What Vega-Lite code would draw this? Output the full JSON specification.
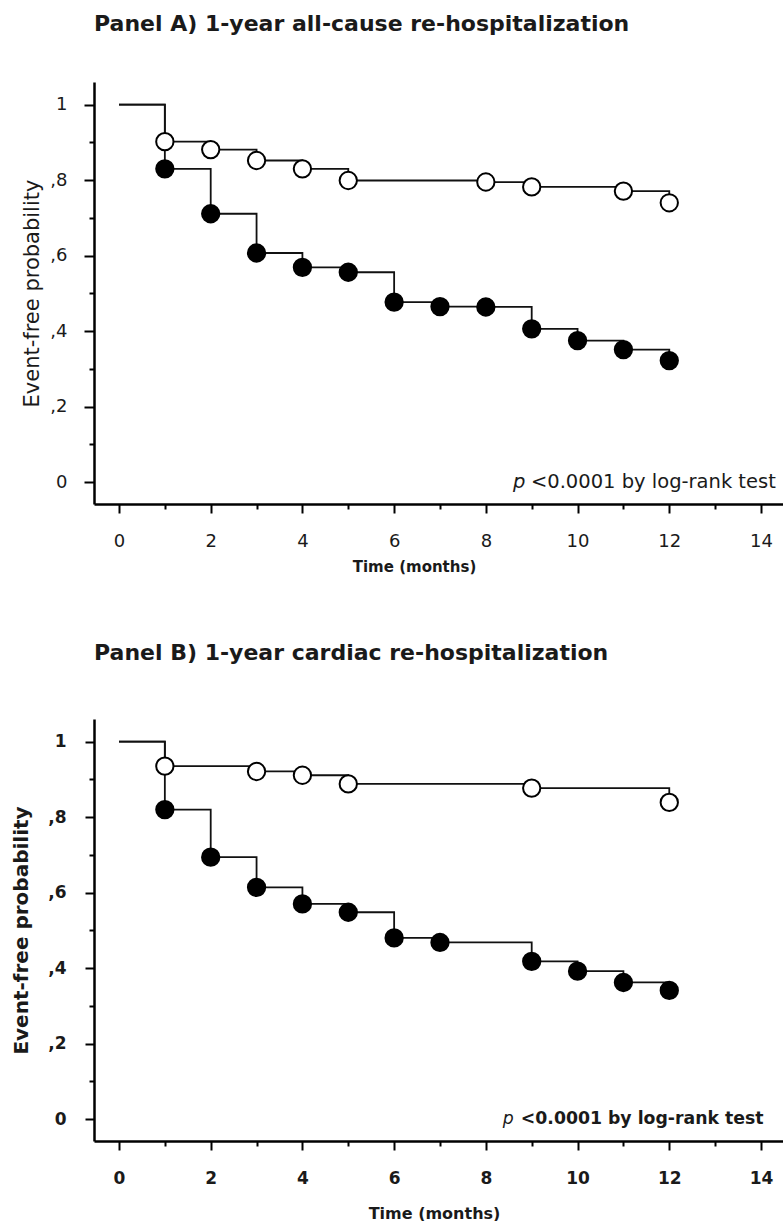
{
  "$schema": "https://vega.github.io/schema/vega-lite/v6.json",
  "background": "white",
  "padding": {"left": 11, "top": 13, "right": 0, "bottom": 0},
  "config": {"view": {"stroke": null}, "font": "DejaVu Sans"},
  "datasets": {
    "A": [
      {"group": "open", "time": 0, "surv": 1, "circle": 0},
      {"group": "open", "time": 1, "surv": 0.902, "circle": 1},
      {"group": "open", "time": 2, "surv": 0.881, "circle": 1},
      {"group": "open", "time": 3, "surv": 0.852, "circle": 1},
      {"group": "open", "time": 4, "surv": 0.83, "circle": 1},
      {"group": "open", "time": 5, "surv": 0.799, "circle": 1},
      {"group": "open", "time": 8, "surv": 0.795, "circle": 1},
      {"group": "open", "time": 9, "surv": 0.782, "circle": 1},
      {"group": "open", "time": 11, "surv": 0.771, "circle": 1},
      {"group": "open", "time": 12, "surv": 0.74, "circle": 1},
      {"group": "filled", "time": 0, "surv": 1, "circle": 0},
      {"group": "filled", "time": 1, "surv": 0.83, "circle": 1},
      {"group": "filled", "time": 2, "surv": 0.711, "circle": 1},
      {"group": "filled", "time": 3, "surv": 0.607, "circle": 1},
      {"group": "filled", "time": 4, "surv": 0.569, "circle": 1},
      {"group": "filled", "time": 5, "surv": 0.556, "circle": 1},
      {"group": "filled", "time": 6, "surv": 0.477, "circle": 1},
      {"group": "filled", "time": 7, "surv": 0.465, "circle": 1},
      {"group": "filled", "time": 8, "surv": 0.464, "circle": 1},
      {"group": "filled", "time": 9, "surv": 0.406, "circle": 1},
      {"group": "filled", "time": 10, "surv": 0.375, "circle": 1},
      {"group": "filled", "time": 11, "surv": 0.351, "circle": 1},
      {"group": "filled", "time": 12, "surv": 0.322, "circle": 1}
    ],
    "B": [
      {"group": "open", "time": 0, "surv": 1, "circle": 0},
      {"group": "open", "time": 1, "surv": 0.935, "circle": 1},
      {"group": "open", "time": 3, "surv": 0.921, "circle": 1},
      {"group": "open", "time": 4, "surv": 0.911, "circle": 1},
      {"group": "open", "time": 5, "surv": 0.888, "circle": 1},
      {"group": "open", "time": 9, "surv": 0.877, "circle": 1},
      {"group": "open", "time": 12, "surv": 0.839, "circle": 1},
      {"group": "filled", "time": 0, "surv": 1, "circle": 0},
      {"group": "filled", "time": 1, "surv": 0.82, "circle": 1},
      {"group": "filled", "time": 2, "surv": 0.694, "circle": 1},
      {"group": "filled", "time": 3, "surv": 0.614, "circle": 1},
      {"group": "filled", "time": 4, "surv": 0.57, "circle": 1},
      {"group": "filled", "time": 5, "surv": 0.548, "circle": 1},
      {"group": "filled", "time": 6, "surv": 0.48, "circle": 1},
      {"group": "filled", "time": 7, "surv": 0.468, "circle": 1},
      {"group": "filled", "time": 9, "surv": 0.418, "circle": 1},
      {"group": "filled", "time": 10, "surv": 0.392, "circle": 1},
      {"group": "filled", "time": 11, "surv": 0.362, "circle": 1},
      {"group": "filled", "time": 12, "surv": 0.341, "circle": 1}
    ],
    "notes": [
      {"italic": "p", "rest": "<0.0001 by log-rank test"}
    ]
  },
  "spacing": 68,
  "vconcat": [
    {
      "width": 689,
      "height": 422,
      "title": {"text": "Panel A) 1-year all-cause re-hospitalization", "anchor": "start", "frame": "group", "fontSize": 22, "fontWeight": "bold", "font": "DejaVu Sans", "color": "#1a1a1a", "offset": 46},
      "layer": [
        {
          "data": {"name": "A"},
          "encoding": {
            "x": {"field": "time", "type": "quantitative",
              "scale": {"domain": [-0.545, 14.48], "nice": false, "zero": false},
              "axis": {"values": [0,0.5,1,1.5,2,2.5,3,3.5,4,4.5,5,5.5,6,6.5,7,7.5,8,8.5,9,9.5,10,10.5,11,11.5,12,12.5,13,13.5,14],
                "labelExpr": "datum.value % 2 == 0 ? format(datum.value, 'd') : ''",
                "title": "Time (months)", "titleFontSize": 15, "titleFontWeight": "bold", "titleColor": "#1a1a1a", "titlePadding": 9, "titleX": 320,
                "labelFontSize": 18, "labelColor": "#1a1a1a", "labelPadding": 19, "labelOverlap": false, "labelFlush": false,
                "tickSize": {"condition": {"test": "datum.value % 2 == 0", "value": 9}, "value": 5},
                "tickWidth": 2, "tickColor": "black", "domainColor": "black", "domainWidth": 2.5, "grid": false}},
            "y": {"field": "surv", "type": "quantitative",
              "scale": {"domain": [-0.058, 1.06], "nice": false, "zero": false},
              "axis": {"values": [0,0.1,0.2,0.3,0.4,0.5,0.6,0.7,0.8,0.9,1],
                "labelExpr": "round(datum.value*10) % 2 == 0 ? (datum.value == 0 ? '0' : datum.value == 1 ? '1' : ',' + round(datum.value*10)) : ''",
                "title": "Event-free probability", "titleFontSize": 21, "titleFontWeight": "normal", "titleColor": "#1a1a1a", "titlePadding": 7,
                "labelFontSize": 18, "labelColor": "#1a1a1a", "labelPadding": 17, "labelOverlap": false, "labelFlush": false,
                "tickSize": {"condition": {"test": "round(datum.value*10) % 2 == 0", "value": 10}, "value": 5},
                "tickWidth": 2, "tickColor": "black", "domainColor": "black", "domainWidth": 2.5, "grid": false}}
          },
          "layer": [
            {"mark": {"type": "line", "interpolate": "step-after", "color": "#111", "strokeWidth": 1.8}, "encoding": {"detail": {"field": "group"}}},
            {"transform": [{"filter": "datum.circle == 1"}],
              "mark": {"type": "point", "shape": "circle", "filled": true, "size": 300, "stroke": "black", "strokeWidth": 2, "opacity": 1},
              "encoding": {"fill": {"field": "group", "type": "nominal", "scale": {"domain": ["open", "filled"], "range": ["white", "black"]}, "legend": null}}}
          ]
        },
        {"data": {"name": "notes"},
          "mark": {"type": "text", "fontStyle": "italic", "fontSize": 19.5, "align": "left", "baseline": "middle", "color": "#1a1a1a"},
          "encoding": {"x": {"datum": 8.59}, "y": {"datum": 0}, "text": {"field": "italic"}}},
        {"data": {"name": "notes"},
          "mark": {"type": "text", "fontSize": 19.5, "align": "left", "baseline": "middle", "dx": 18, "color": "#1a1a1a"},
          "encoding": {"x": {"datum": 8.59}, "y": {"datum": 0}, "text": {"field": "rest"}}}
      ]
    },
    {
      "width": 689,
      "height": 422,
      "title": {"text": "Panel B) 1-year cardiac re-hospitalization", "anchor": "start", "frame": "group", "fontSize": 22, "fontWeight": "bold", "font": "DejaVu Sans", "color": "#1a1a1a", "offset": 54},
      "layer": [
        {
          "data": {"name": "B"},
          "encoding": {
            "x": {"field": "time", "type": "quantitative",
              "scale": {"domain": [-0.545, 14.48], "nice": false, "zero": false},
              "axis": {"values": [0,0.5,1,1.5,2,2.5,3,3.5,4,4.5,5,5.5,6,6.5,7,7.5,8,8.5,9,9.5,10,10.5,11,11.5,12,12.5,13,13.5,14],
                "labelExpr": "datum.value % 2 == 0 ? format(datum.value, 'd') : ''",
                "title": "Time (months)", "titleFontSize": 16, "titleFontWeight": "bold", "titleColor": "#1a1a1a", "titlePadding": 19, "titleX": 340,
                "labelFontSize": 17, "labelFontWeight": "bold", "labelColor": "#1a1a1a", "labelPadding": 20, "labelOverlap": false, "labelFlush": false,
                "tickSize": {"condition": {"test": "datum.value % 2 == 0", "value": 9}, "value": 5},
                "tickWidth": 2, "tickColor": "black", "domainColor": "black", "domainWidth": 2.5, "grid": false}},
            "y": {"field": "surv", "type": "quantitative",
              "scale": {"domain": [-0.058, 1.06], "nice": false, "zero": false},
              "axis": {"values": [0,0.1,0.2,0.3,0.4,0.5,0.6,0.7,0.8,0.9,1],
                "labelExpr": "round(datum.value*10) % 2 == 0 ? (datum.value == 0 ? '0' : datum.value == 1 ? '1' : ',' + round(datum.value*10)) : ''",
                "title": "Event-free probability", "titleFontSize": 20, "titleFontWeight": "bold", "titleColor": "#1a1a1a", "titlePadding": 16,
                "labelFontSize": 17, "labelFontWeight": "bold", "labelColor": "#1a1a1a", "labelPadding": 19, "labelOverlap": false, "labelFlush": false,
                "tickSize": {"condition": {"test": "round(datum.value*10) % 2 == 0", "value": 9}, "value": 5},
                "tickWidth": 2, "tickColor": "black", "domainColor": "black", "domainWidth": 2.5, "grid": false}}
          },
          "layer": [
            {"mark": {"type": "line", "interpolate": "step-after", "color": "#111", "strokeWidth": 1.8}, "encoding": {"detail": {"field": "group"}}},
            {"transform": [{"filter": "datum.circle == 1"}],
              "mark": {"type": "point", "shape": "circle", "filled": true, "size": 300, "stroke": "black", "strokeWidth": 2, "opacity": 1},
              "encoding": {"fill": {"field": "group", "type": "nominal", "scale": {"domain": ["open", "filled"], "range": ["white", "black"]}, "legend": null}}}
          ]
        },
        {"data": {"name": "notes"},
          "mark": {"type": "text", "fontStyle": "italic", "fontSize": 17.3, "align": "left", "baseline": "middle", "color": "#1a1a1a"},
          "encoding": {"x": {"datum": 8.37}, "y": {"datum": 0}, "text": {"field": "italic"}}},
        {"data": {"name": "notes"},
          "mark": {"type": "text", "fontSize": 17.3, "fontWeight": "bold", "align": "left", "baseline": "middle", "dx": 18, "color": "#1a1a1a"},
          "encoding": {"x": {"datum": 8.37}, "y": {"datum": 0}, "text": {"field": "rest"}}}
      ]
    }
  ]
}
